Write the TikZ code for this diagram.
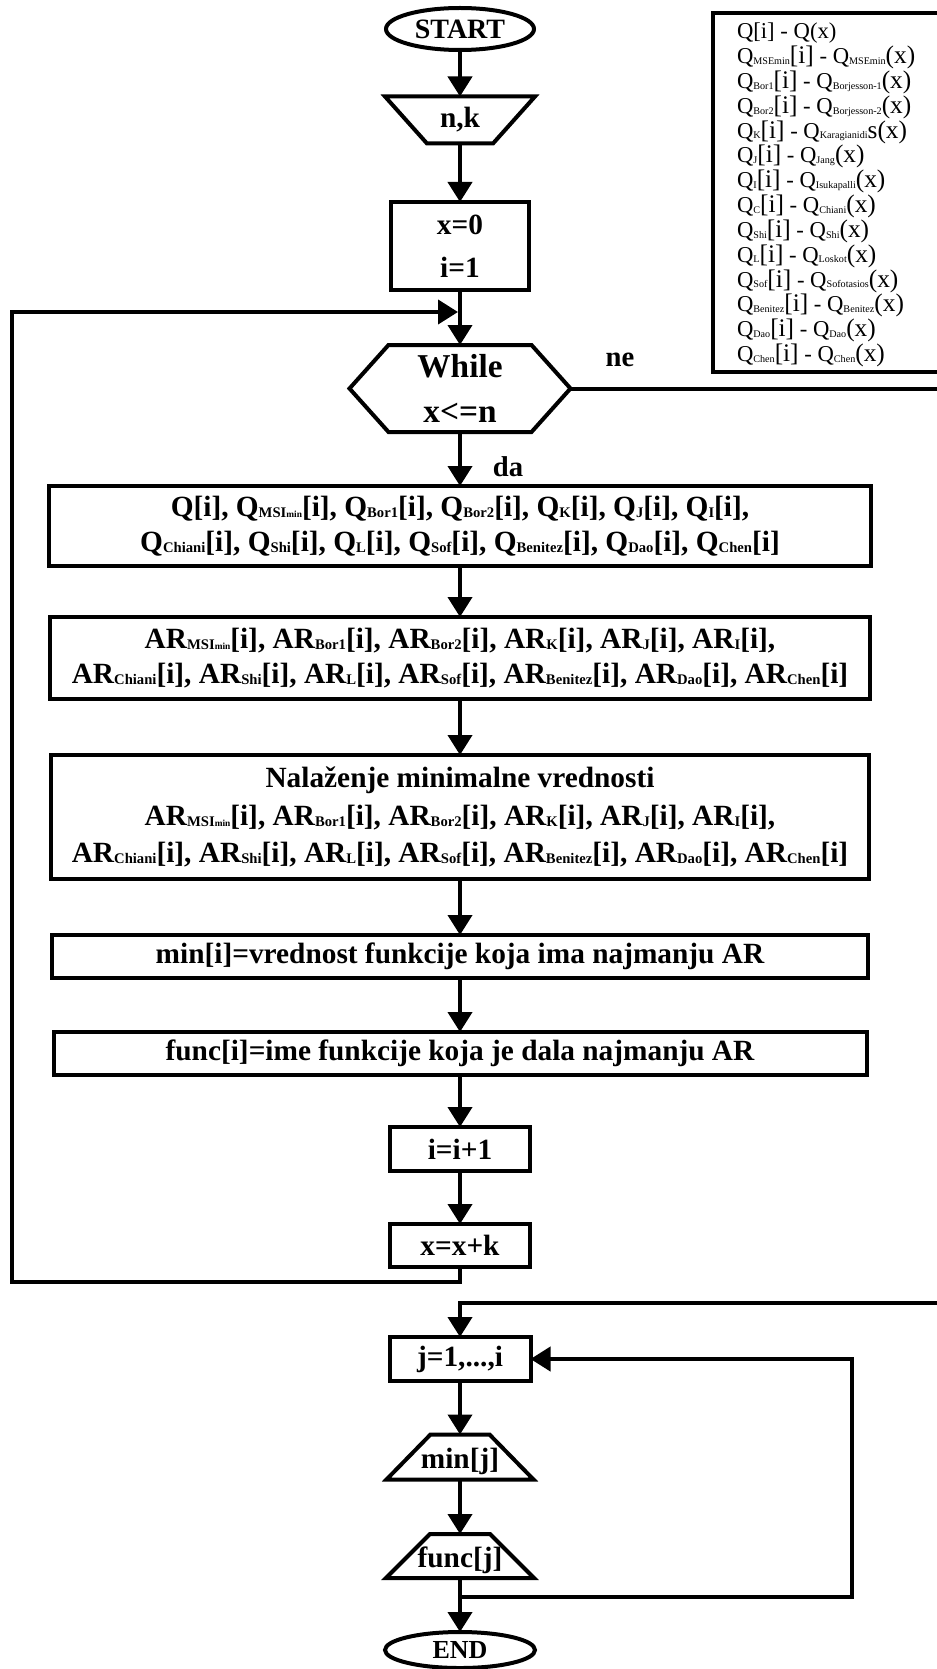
\documentclass[tikz,border=0pt]{standalone}
\usepackage{fontspec}
\setmainfont{Liberation Serif}
\usetikzlibrary{arrows.meta,calc,shapes.geometric}

% subscripts inside the process boxes
\newcommand\bsub[1]{\raisebox{-1pt}{\fontsize{11}{11}\selectfont #1}}
\newcommand\msimin{\raisebox{-1pt}{\fontsize{11}{11}\selectfont MSI\fontsize{7}{7}\selectfont min}}
% subscripts and enlarged brackets in the key
\newcommand\legsub[1]{\raisebox{-0.5pt}{\fontsize{7.6}{7.6}\selectfont #1}}
\newcommand\legbig[1]{{\fontsize{19}{19}\selectfont #1}}
% label set low inside an output trapezium
\newcommand\lowtext[1]{\raisebox{-8.5pt}[0pt][0pt]{#1}}

\begin{document}
\begin{tikzpicture}[x=0.75pt,y=-0.75pt,line width=3pt,
  every node/.style={inner sep=0pt,outer sep=0pt},
  arrow/.style={-{Triangle[length=15pt,width=18pt]}},
  boxfont/.style={font=\bfseries\fontsize{22}{26}\selectfont},
  procbox/.style={draw,rectangle,boxfont,align=center},
  plain/.style={rectangle,boxfont,align=center},
  terminal/.style={draw,ellipse,font=\bfseries\fontsize{19.5}{22}\selectfont},
  lbl/.style={font=\bfseries\fontsize{21.5}{24}\selectfont},
  legtext/.style={font=\fontsize{17}{20}\selectfont,anchor=base west}]

\clip (0,0) rectangle (937,1669);
\useasboundingbox (0,0) rectangle (937,1669);

% ---- main loop ----
\node[terminal,minimum width=111pt,minimum height=31.5pt,font=\bfseries\fontsize{21}{24}\selectfont] (start) at (460,29) {START};
\node[plain,minimum width=112.5pt,minimum height=35.25pt] (nk) at (460,120) {n,k};
\node[procbox,minimum width=103.5pt,minimum height=66pt,font=\bfseries\fontsize{22}{32}\selectfont] (init) at (460,246) {x=0\\i=1};
\node[plain,minimum width=165.75pt,minimum height=65.25pt,font=\bfseries\fontsize{25}{34}\selectfont] (hex) at (460,388.5) {While\\x<=n};
\node[procbox,minimum width=616.5pt,minimum height=60pt] (qbox) at (460,526)
  {Q[i], Q\msimin[i], Q\bsub{Bor1}[i], Q\bsub{Bor2}[i], Q\bsub{K}[i], Q\bsub{J}[i], Q\bsub{I}[i],\\
   Q\bsub{Chiani}[i], Q\bsub{Shi}[i], Q\bsub{L}[i], Q\bsub{Sof}[i], Q\bsub{Benitez}[i], Q\bsub{Dao}[i], Q\bsub{Chen}[i]};
\node[procbox,minimum width=615pt,minimum height=61.5pt] (arbox) at (460,658)
  {AR\msimin[i], AR\bsub{Bor1}[i], AR\bsub{Bor2}[i], AR\bsub{K}[i], AR\bsub{J}[i], AR\bsub{I}[i],\\
   AR\bsub{Chiani}[i], AR\bsub{Shi}[i], AR\bsub{L}[i], AR\bsub{Sof}[i], AR\bsub{Benitez}[i], AR\bsub{Dao}[i], AR\bsub{Chen}[i]};
\node[procbox,minimum width=613.5pt,minimum height=93pt,font=\bfseries\fontsize{22}{28}\selectfont] (nalbox) at (460,817)
  {Nalaženje minimalne vrednosti\\
   AR\msimin[i], AR\bsub{Bor1}[i], AR\bsub{Bor2}[i], AR\bsub{K}[i], AR\bsub{J}[i], AR\bsub{I}[i],\\
   AR\bsub{Chiani}[i], AR\bsub{Shi}[i], AR\bsub{L}[i], AR\bsub{Sof}[i], AR\bsub{Benitez}[i], AR\bsub{Dao}[i], AR\bsub{Chen}[i]};
\node[procbox,minimum width=612pt,minimum height=32.25pt] (minbox) at (460,956.5) {min[i]=vrednost funkcije koja ima najmanju AR};
\node[procbox,minimum width=609.75pt,minimum height=32.25pt] (funcbox) at (460,1053.5) {func[i]=ime funkcije koja je dala najmanju AR};
\node[procbox,minimum width=105pt,minimum height=33pt] (incbox) at (460,1149) {i=i+1};
\node[procbox,minimum width=105pt,minimum height=32.25pt] (stepbox) at (460,1245.5) {x=x+k};

% ---- output loop ----
\node[procbox,minimum width=105.75pt,minimum height=33pt] (jbox) at (460,1359) {j=1,...,i};
\node[plain,minimum width=110.25pt,minimum height=33.75pt] (minj) at (460,1457) {\lowtext{min[j]}};
\node[plain,minimum width=111pt,minimum height=33pt] (funcj) at (460,1556) {\lowtext{func[j]}};
\node[terminal,minimum width=112.5pt,minimum height=27pt] (end) at (460,1650) {END};

% outlines of the input/output and decision shapes
\draw (nk.north west) -- (nk.north east) -- ([xshift=-31.5pt]nk.south east)
      -- ([xshift=31.5pt]nk.south west) -- cycle;
\draw (hex.west) -- ([xshift=29.25pt]hex.north west) -- ([xshift=-29.25pt]hex.north east)
      -- (hex.east) -- ([xshift=-29.25pt]hex.south east) -- ([xshift=29.25pt]hex.south west) -- cycle;
\draw ([xshift=33pt]minj.north west) -- ([xshift=-33pt]minj.north east)
      -- (minj.south east) -- (minj.south west) -- cycle;
\draw ([xshift=33pt]funcj.north west) -- ([xshift=-33pt]funcj.north east)
      -- (funcj.south east) -- (funcj.south west) -- cycle;

% branch labels
\node[lbl] (lblne) at (620,360) {ne};
\node[lbl] (lblda) at (508,467) {da};

% connectors
\coordinate (merge) at (458,312);
\coordinate (loopL) at (12,1282);
\coordinate (rail) at (960,1303);
\coordinate (split) at (460,1597);
\coordinate (back) at (852,1597);

\draw[arrow] (start) -- (nk);
\draw[arrow] (nk) -- (init);
\draw[arrow] (init) -- (hex);
\draw[arrow] (hex) -- (qbox);
\draw[arrow] (qbox) -- (arbox);
\draw[arrow] (arbox) -- (nalbox);
\draw[arrow] (nalbox) -- (minbox);
\draw[arrow] (minbox) -- (funcbox);
\draw[arrow] (funcbox) -- (incbox);
\draw[arrow] (incbox) -- (stepbox);
\draw[arrow] (stepbox.south) |- (loopL) |- (merge);
\draw[arrow] (hex.east) -| (rail) -| (jbox.north);
\draw[arrow] (jbox) -- (minj);
\draw[arrow] (minj) -- (funcj);
\draw[arrow] (funcj) -- (end);
\draw[arrow] (split) -- (back) |- (jbox.east);

% ---- key of the function names ----
\node[draw,rectangle,anchor=north west,minimum width=180pt,minimum height=269pt] (legend) at (713,13) {};
\foreach \t [count=\k] in {
  {Q[i] - Q(x)},
  {Q\legsub{MSEmin}\legbig{[i]} - Q\legsub{MSEmin}\legbig{(x)}},
  {Q\legsub{Bor1}\legbig{[i]} - Q\legsub{Borjesson-1}\legbig{(x)}},
  {Q\legsub{Bor2}\legbig{[i]} - Q\legsub{Borjesson-2}\legbig{(x)}},
  {Q\legsub{K}\legbig{[i]} - Q\legsub{Karagianidi}\legbig{s(x)}},
  {Q\legsub{J}\legbig{[i]} - Q\legsub{Jang}\legbig{(x)}},
  {Q\legsub{I}\legbig{[i]} - Q\legsub{Isukapalli}\legbig{(x)}},
  {Q\legsub{C}\legbig{[i]} - Q\legsub{Chiani}\legbig{(x)}},
  {Q\legsub{Shi}\legbig{[i]} - Q\legsub{Shi}\legbig{(x)}},
  {Q\legsub{L}\legbig{[i]} - Q\legsub{Loskot}\legbig{(x)}},
  {Q\legsub{Sof}\legbig{[i]} - Q\legsub{Sofotasios}\legbig{(x)}},
  {Q\legsub{Benitez}\legbig{[i]} - Q\legsub{Benitez}\legbig{(x)}},
  {Q\legsub{Dao}\legbig{[i]} - Q\legsub{Dao}\legbig{(x)}},
  {Q\legsub{Chen}\legbig{[i]} - Q\legsub{Chen}\legbig{(x)}}}
{
  \node[legtext] (leg\k) at ({737},{39+24.8*(\k-1)}) {\t};
}
\end{tikzpicture}
\end{document}
